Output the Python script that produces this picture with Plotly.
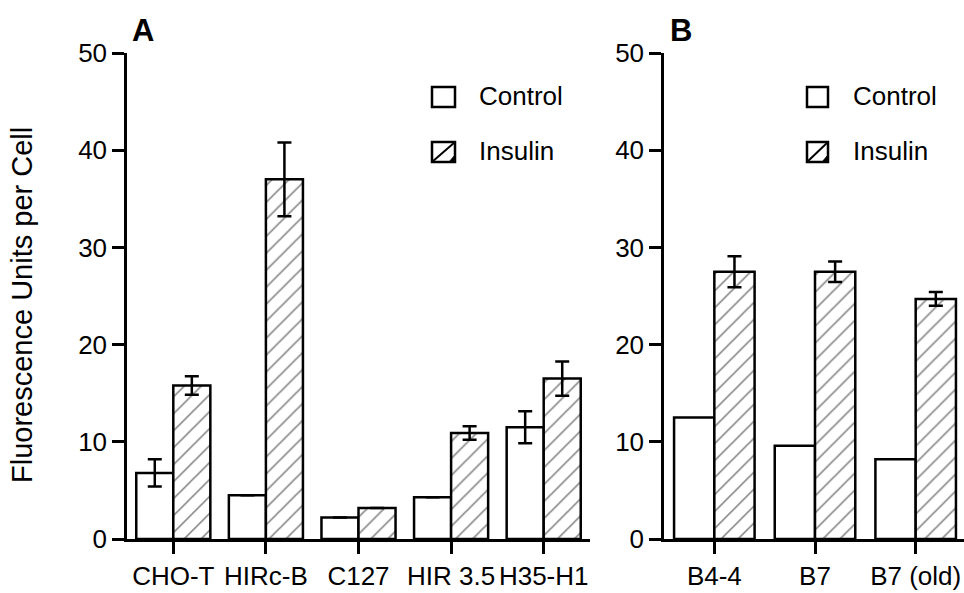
import plotly.graph_objects as go

# ---- data ----
cells_a = ["CHO-T", "HIRc-B", "C127", "HIR 3.5", "H35-H1"]
control_a = [6.8, 4.5, 2.2, 4.3, 11.5]
control_a_err = [1.4, None, None, None, 1.65]
insulin_a = [15.8, 37.0, 3.2, 10.9, 16.5]
insulin_a_err = [0.95, 3.8, None, 0.7, 1.75]

cells_b = ["B4-4", "B7", "B7 (old)"]
control_b = [12.5, 9.6, 8.2]
insulin_b = [27.5, 27.5, 24.7]
insulin_b_err = [1.6, 1.05, 0.7]

y_ticks = [0, 10, 20, 30, 40, 50]

FONT = "Liberation Sans, Arial, Helvetica, sans-serif"
W, H = 964, 593

def px(x):
    return x / W

def py(y):
    return (H - y) / H

ctrl_style = dict(marker=dict(color="white", line=dict(color="black", width=2.5)))
ins_style = dict(marker=dict(color="white", line=dict(color="black", width=2.5),
                             pattern=dict(shape="/", fgcolor="black", bgcolor="white",
                                          size=12, solidity=0.13)))
err_style = dict(type="data", color="black", thickness=2.5, width=7)

fig = go.Figure()
fig.add_trace(go.Bar(x=cells_a, y=control_a, name="Control", xaxis="x", yaxis="y",
                     error_y=dict(array=control_a_err, **err_style), showlegend=False, **ctrl_style))
fig.add_trace(go.Bar(x=cells_a, y=insulin_a, name="Insulin", xaxis="x", yaxis="y",
                     error_y=dict(array=insulin_a_err, **err_style), showlegend=False, **ins_style))
fig.add_trace(go.Bar(x=cells_b, y=control_b, name="Control", xaxis="x2", yaxis="y2",
                     showlegend=False, **ctrl_style))
fig.add_trace(go.Bar(x=cells_b, y=insulin_b, name="Insulin", xaxis="x2", yaxis="y2",
                     error_y=dict(array=insulin_b_err, **err_style), showlegend=False, **ins_style))

axis_common = dict(showline=True, linecolor="black", linewidth=2.5, ticks="outside",
                   ticklen=12, tickwidth=2.5, tickcolor="black", showgrid=False,
                   zeroline=False, automargin=False,
                   tickfont=dict(family=FONT, size=26, color="black"))
ydom = [py(539), py(53)]

fig.update_layout(
    width=W, height=H, autosize=False,
    margin=dict(l=0, r=0, t=0, b=0, pad=0, autoexpand=False),
    paper_bgcolor="white", plot_bgcolor="white",
    barmode="group", bargap=0.2, bargroupgap=0,
    font=dict(family=FONT, color="black"),
    xaxis=dict(domain=[px(127), px(590)], range=[-0.5, 4.5], anchor="y", **axis_common),
    yaxis=dict(domain=ydom, range=[0, 50], tickvals=y_ticks, anchor="x", **axis_common),
    xaxis2=dict(domain=[px(664), 1], range=[-0.5, 2.48], anchor="y2", **axis_common),
    yaxis2=dict(domain=ydom, range=[0, 50], tickvals=y_ticks, anchor="x2", **axis_common),
)

# y-axis title
fig.add_annotation(text="Fluorescence Units per Cell", xref="paper", yref="paper",
                   x=px(22), y=py(305), textangle=-90, showarrow=False,
                   xanchor="center", yanchor="middle",
                   font=dict(family=FONT, size=29, color="black"))

# panel letters
for letter, xc in [("A", 143), ("B", 681)]:
    fig.add_annotation(text=f"<b>{letter}</b>", xref="paper", yref="paper",
                       x=px(xc), y=py(31), showarrow=False,
                       xanchor="center", yanchor="middle",
                       font=dict(family=FONT, size=31, color="black"))

# legends (drawn manually)
for (bx0, bx1, tx) in [(432, 455, 477), (807, 828, 851)]:
    fig.add_shape(type="rect", xref="paper", yref="paper",
                  x0=px(bx0), x1=px(bx1), y0=py(107), y1=py(87),
                  line=dict(color="black", width=2.5), fillcolor="white")
    fig.add_annotation(text="Control", xref="paper", yref="paper", x=px(tx), y=py(96),
                       xanchor="left", yanchor="middle", showarrow=False,
                       font=dict(family=FONT, size=26, color="black"))
    fig.add_shape(type="rect", xref="paper", yref="paper",
                  x0=px(bx0), x1=px(bx1), y0=py(162), y1=py(142),
                  line=dict(color="black", width=2.5), fillcolor="white")
    fig.add_shape(type="line", xref="paper", yref="paper",
                  x0=px(bx0), x1=px(bx1), y0=py(162), y1=py(142),
                  line=dict(color="black", width=2))
    fig.add_shape(type="path", xref="paper", yref="paper",
                  path=f"M {px(bx1-6)},{py(162)} L {px(bx1)},{py(162)} L {px(bx1)},{py(155)} Z",
                  line=dict(color="black", width=1), fillcolor="black")
    fig.add_annotation(text="Insulin", xref="paper", yref="paper", x=px(tx), y=py(151),
                       xanchor="left", yanchor="middle", showarrow=False,
                       font=dict(family=FONT, size=26, color="black"))

fig.write_html("out.html",
               config={"displayModeBar": False},
               post_script="document.body.style.margin='0';document.body.style.padding='0';"
                           "document.body.style.overflow='hidden';")
